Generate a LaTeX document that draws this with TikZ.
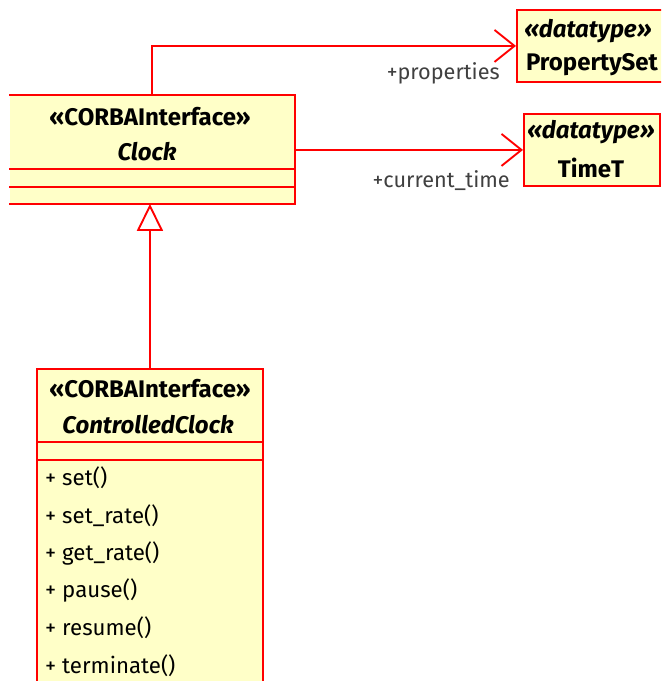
\documentclass[tikz,border=0pt]{standalone}
\usepackage{fontspec}
\setmainfont{Fira Sans}
\usetikzlibrary{arrows.meta}

\definecolor{umlfill}{RGB}{255,255,200}
\definecolor{umlline}{RGB}{255,0,0}
\definecolor{umllabel}{RGB}{64,64,64}
\def\px{0.03cm}

\tikzset{
  umlbox/.style={draw=umlline, fill=umlfill, line width=1.6pt, rectangle, inner sep=0pt, anchor=north west},
  umlsep/.style={draw=umlline, line width=1.6pt},
  umltitle/.style={inner sep=0pt, font=\fontsize{20.5}{24}\selectfont\bfseries},
  umlop/.style={inner sep=0pt, anchor=west, font=\fontsize{19}{23}\selectfont},
  assoc/.style={draw=umlline, line width=1.6pt, -{Straight Barb[length=20*\px, width=32*\px, line width=1.6pt]}},
  gen/.style={draw=umlline, line width=1.6pt, -{Triangle[open, fill=white, length=27*\px, width=26*\px, line width=1.6pt]}},
  rolelabel/.style={inner sep=0pt, anchor=east, text=umllabel, font=\fontsize{18.5}{22}\selectfont},
}

\begin{document}
\begin{tikzpicture}[x=0.03cm, y=-0.03cm]
	\clip (0,0) rectangle (661,681);
	\fill[white] (0,0) rectangle (661,681);
	% Interface Clock (its left side is not drawn)
	\node[umlbox, draw=none, minimum width=284*\px, minimum height=107*\px] (clock) at (9,95) {};
	\draw[umlsep] (clock.north west) -- (clock.north east) -- (clock.south east) -- (clock.south west);
	\draw[umlsep] (clock.west |- 0,169) -- (clock.east |- 0,169);
	\draw[umlsep] (clock.west |- 0,187) -- (clock.east |- 0,187);
	\node[umltitle] (clockst) at (150,117) {«CORBAInterface»};
	\node[umltitle, font=\fontsize{20.5}{24}\selectfont\bfseries\itshape] (clockname) at (147,152) {Clock};
	% Datatypes
	\node[umlbox, minimum width=150*\px, minimum height=72*\px] (propset) at (516,9) {};
	\node[umltitle, font=\fontsize{20.5}{24}\selectfont\bfseries\itshape] (propsetst) at (588,31) {«datatype»};
	\node[umltitle] (propsetname) at (592,65) {PropertySet};
	\node[umlbox, minimum width=136*\px, minimum height=72*\px] (timet) at (523,113) {};
	\node[umltitle, font=\fontsize{20.5}{24}\selectfont\bfseries\itshape] (timetst) at (591,132) {«datatype»};
	\node[umltitle] (timetname) at (591,168) {TimeT};
	% Interface ControlledClock
	\node[umlbox, minimum width=226*\px, minimum height=330*\px] (cclock) at (36,368) {};
	\draw[umlsep] (cclock.west |- 0,442) -- (cclock.east |- 0,442);
	\draw[umlsep] (cclock.west |- 0,460) -- (cclock.east |- 0,460);
	\node[umltitle] (cclockst) at (150,389) {«CORBAInterface»};
	\node[umltitle, font=\fontsize{20.5}{24}\selectfont\bfseries\itshape] (cclockname) at (148,425) {ControlledClock};
	\foreach \op [count=\i] in {set(), set\_rate(), get\_rate(), pause(), resume(), terminate()}
		\node[umlop] (op\i) at (45,{478+37.5*(\i-1)}) {+ \op};
	% Associations
	\draw[assoc] (clock.north) |- (propset.west);
	\node[rolelabel] (proplabel) at (500,73) {+properties};
	\draw[assoc] (clock.east |- timet.west) -- (timet.west);
	\node[rolelabel] (timelabel) at (510,181) {+current\_time};
	% Generalization
	\draw[gen] (cclock.north) -- (cclock.north |- clock.south);
\end{tikzpicture}
\end{document}
